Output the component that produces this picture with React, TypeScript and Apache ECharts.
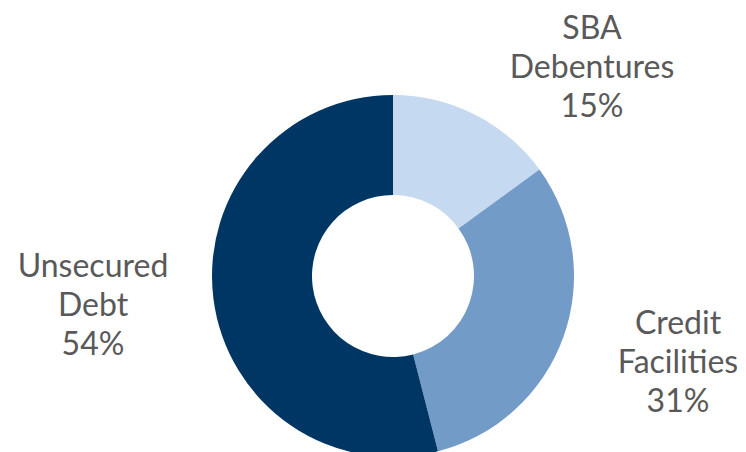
import React, { useEffect, useRef } from "react";
import * as echarts from "echarts";

const categories = ["SBA\nDebentures", "Credit\nFacilities", "Unsecured\nDebt"];
const values = [15, 31, 54];
const colors = ["#c5d9f1", "#739bc8", "#003663"];
const labelPositions = [
  [592, 65],
  [678, 360],
  [93, 303],
];

export default function App() {
  const ref = useRef<HTMLDivElement>(null);
  useEffect(() => {
    if (!ref.current) return;
    const chart = echarts.init(ref.current, undefined, { renderer: "svg" });
    chart.setOption({
      animation: false,
      series: [
        {
          type: "pie",
          center: [393, 276],
          radius: [81, 181],
          startAngle: 90,
          clockwise: true,
          data: categories.map((c, i) => ({
            name: c,
            value: values[i],
            itemStyle: { color: colors[i] },
          })),
          label: {
            show: true,
            position: "outside",
            formatter: (p: any) => `${p.name}\n${p.value}%`,
            fontFamily: "Lato",
            fontSize: 32,
            lineHeight: 39,
            color: "#595959",
            align: "center",
          },
          labelLine: { show: false },
          labelLayout: (params: any) => ({
            x: labelPositions[params.dataIndex][0],
            y: labelPositions[params.dataIndex][1],
            align: "center",
            verticalAlign: "middle",
          }),
          emphasis: { disabled: true },
        },
      ],
    });
    return () => chart.dispose();
  }, []);
  return (
    <div
      ref={ref}
      style={{ position: "absolute", left: 0, top: 0, width: 746, height: 452 }}
    />
  );
}
